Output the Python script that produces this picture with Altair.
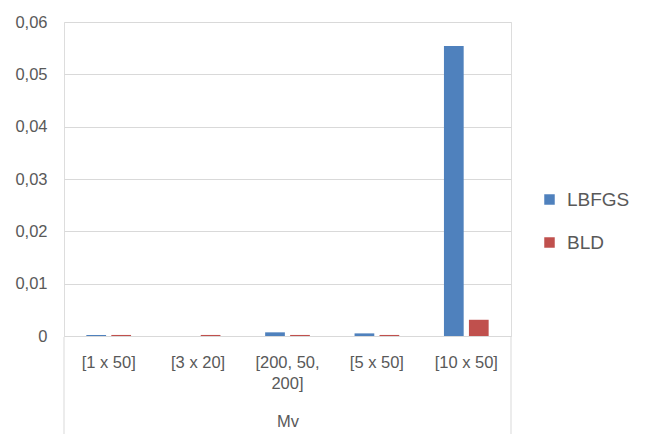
import altair as alt
import pandas as pd

categories = ["[1 x 50]", "[3 x 20]", "[200, 50, 200]", "[5 x 50]", "[10 x 50]"]
series = ["LBFGS", "BLD"]
lbfgs = [0.0002, 0.0, 0.0007, 0.0005, 0.0554]
bld = [0.0002, 0.0002, 0.0002, 0.0002, 0.0031]
y_ticks = [0, 0.01, 0.02, 0.03, 0.04, 0.05, 0.06]
colors = ["#4f81bd", "#c0504d"]

rows = []
for i, c in enumerate(categories):
    rows.append({"cat": c, "series": "LBFGS", "value": lbfgs[i]})
    rows.append({"cat": c, "series": "BLD", "value": bld[i]})
df = pd.DataFrame(rows)

FONT = "Liberation Sans"
TXT = "#595959"
W, H = 447, 314

bars = alt.Chart(df).mark_bar().encode(
    x=alt.X("cat:N", sort=categories,
            scale=alt.Scale(paddingInner=0.5, paddingOuter=0.25),
            axis=alt.Axis(title="Mv", labelAngle=0, ticks=False,
                          domainColor="#d9d9d9", domainWidth=1,
                          labelPadding=18, labelFontSize=16.5, labelColor=TXT,
                          labelFont=FONT, labelLineHeight=21,
                          labelExpr="datum.value == '[200, 50, 200]' ? ['[200, 50,', '200]'] : datum.value",
                          titleFont=FONT, titleFontSize=16.5, titleColor=TXT,
                          titleFontWeight="normal", titlePadding=22)),
    xOffset=alt.XOffset("series:N", sort=series,
                        scale=alt.Scale(paddingInner=0.21, paddingOuter=0)),
    y=alt.Y("value:Q", scale=alt.Scale(domain=[0, 0.06], nice=False),
            axis=alt.Axis(title=None, values=y_ticks, domain=False, ticks=False,
                          gridColor="#d9d9d9", labelPadding=17,
                          labelFontSize=16.5, labelColor=TXT, labelFont=FONT,
                          labelExpr="datum.value == 0 ? '0' : replace(format(datum.value, '.2f'), '.', ',')")),
    color=alt.Color("series:N", sort=series,
                    scale=alt.Scale(domain=series, range=colors),
                    legend=alt.Legend(title=None, orient="none", legendX=W + 29, legendY=168,
                                      symbolType="square", symbolSize=110,
                                      symbolStrokeWidth=0, labelFontSize=19,
                                      labelColor=TXT, labelFont=FONT,
                                      rowPadding=23, labelOffset=8)),
)

edge_df = pd.DataFrame({"pos": [0, W]})
edges = alt.Chart(edge_df).mark_rule(color="#d9d9d9", strokeWidth=1).encode(
    x=alt.X("pos:Q", scale=alt.Scale(domain=[0, W], range=[0, W]), axis=None),
    y=alt.value(H + 1),
    y2=alt.value(H + 98),
)

chart = alt.layer(bars, edges).resolve_scale(x="independent").properties(
    width=W, height=H,
    autosize=alt.AutoSizeParams(type="none"),
    padding={"left": 56, "top": 14, "right": 130, "bottom": 100},
).configure_view(stroke=None).configure(background="white")

chart.save("out.html", embed_options={"renderer": "svg", "actions": False})
